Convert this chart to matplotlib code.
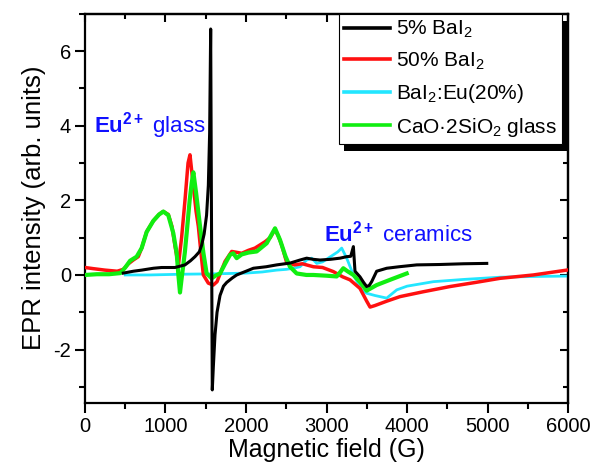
import numpy as np
import matplotlib
matplotlib.use("Agg")
from matplotlib import pyplot as plt
from matplotlib.ticker import MultipleLocator
from matplotlib.patches import Rectangle
from matplotlib.transforms import IdentityTransform

plt.rcParams['font.family'] = ['Liberation Sans', 'DejaVu Sans']
plt.rcParams['mathtext.fontset'] = 'custom'
plt.rcParams['mathtext.rm'] = 'Liberation Sans'
plt.rcParams['mathtext.it'] = 'Liberation Sans:italic'
plt.rcParams['mathtext.bf'] = 'Liberation Sans:bold'
plt.rcParams['axes.unicode_minus'] = False

# 5% BaI2
x_black = [476, 600, 704, 850, 952, 1118, 1242, 1310, 1366, 1420, 1449, 1480, 1510, 1532,
           1548, 1561, 1570, 1581, 1594, 1615, 1640, 1677, 1720, 1760, 1830, 1884, 2000,
           2091, 2250, 2381, 2550, 2670, 2753, 2830, 2919, 3050, 3167, 3250, 3300, 3333,
           3353, 3415, 3460, 3498, 3530, 3560, 3622, 3700, 3747, 3900, 4120, 4400, 4700, 4989]
y_black = [0.05, 0.1, 0.13, 0.18, 0.2, 0.2, 0.27, 0.38, 0.49, 0.62, 0.8, 1.1, 1.6, 2.4,
           3.8, 6.59, 2.0, -3.08, -2.46, -1.6, -1.0, -0.55, -0.3, -0.2, -0.08, 0.0, 0.1,
           0.18, 0.22, 0.27, 0.32, 0.4, 0.45, 0.42, 0.4, 0.42, 0.45, 0.49, 0.5, 0.76,
           0.1, -0.05, -0.2, -0.31, -0.28, -0.18, 0.1, 0.15, 0.18, 0.22, 0.27, 0.28, 0.3, 0.31]

# 50% BaI2
x_red = [0, 100, 248, 400, 476, 540, 600, 662, 704, 766, 849, 920, 973, 1035, 1080, 1120,
         1160, 1200, 1242, 1280, 1304, 1340, 1380, 1408, 1440, 1470, 1532, 1594, 1640,
         1700, 1739, 1822, 1900, 1946, 2030, 2111, 2236, 2300, 2360, 2400, 2443, 2505,
         2600, 2700, 2836, 2950, 3084, 3200, 3291, 3415, 3498, 3540, 3600, 3750, 3912,
         4200, 4533, 4850, 5154, 5568, 5983]
y_red = [0.2, 0.17, 0.13, 0.1, 0.15, 0.3, 0.4, 0.49, 0.72, 1.16, 1.45, 1.62, 1.7, 1.62,
         1.3, 0.75, 0.25, 1.0, 2.0, 3.0, 3.22, 2.5, 1.7, 1.3, 0.6, 0.0, -0.22, -0.27, -0.18,
         0.15, 0.36, 0.63, 0.6, 0.58, 0.66, 0.72, 0.89, 1.0, 1.22, 1.05, 0.8, 0.33,
         0.27, 0.3, 0.22, 0.2, 0.09, -0.05, -0.13, -0.36, -0.7, -0.86, -0.82, -0.7, -0.58,
         -0.45, -0.31, -0.2, -0.09, 0.0, 0.13]

# BaI2:Eu(20%)
x_cyan = [500, 800, 1200, 1600, 2000, 2200, 2381, 2500, 2587, 2670, 2753, 2815, 2878,
          2950, 3084, 3140, 3188, 3250, 3333, 3436, 3498, 3600, 3747, 3871, 4000, 4326,
          4700, 5154, 5600, 5983]
y_cyan = [0.0, 0.0, 0.02, 0.03, 0.05, 0.08, 0.13, 0.15, 0.18, 0.22, 0.4, 0.45, 0.31,
          0.35, 0.54, 0.62, 0.72, 0.45, 0.0, -0.4, -0.49, -0.55, -0.62, -0.4, -0.3, -0.18,
          -0.12, -0.06, -0.04, -0.03]

# CaO.2SiO2 glass
x_green = [0, 150, 300, 440, 500, 560, 642, 704, 766, 849, 920, 973, 1035, 1097, 1139,
           1160, 1180, 1200, 1240, 1263, 1300, 1325, 1346, 1380, 1429, 1470, 1511, 1573,
           1620, 1677, 1740, 1801, 1842, 1884, 1946, 2030, 2132, 2257, 2360, 2422, 2490,
           2546, 2629, 2750, 2836, 3000, 3126, 3208, 3260, 3333, 3420, 3498, 3622, 3800, 3995]
y_green = [0.0, 0.02, 0.02, 0.05, 0.2, 0.38, 0.49, 0.72, 1.15, 1.45, 1.62, 1.7, 1.6, 1.12,
           0.58, 0.0, -0.47, -0.1, 0.6, 1.12, 2.0, 2.46, 2.75, 2.2, 1.3, 0.6, 0.04, -0.09,
           -0.02, 0.04, 0.3, 0.54, 0.58, 0.45, 0.55, 0.6, 0.63, 0.85, 1.25, 0.94, 0.5,
           0.22, 0.04, 0.0, 0.0, -0.02, -0.04, 0.18, 0.1, 0.0, -0.2, -0.42, -0.27, -0.12, 0.04]

fig, ax = plt.subplots(figsize=(5.9, 4.72), dpi=100)
fig.subplots_adjust(left=0.144, right=0.963, top=0.971, bottom=0.147)

ax.plot(x_cyan, y_cyan, color='#22e6ff', lw=2.0, zorder=2, label='BaI$_2$:Eu(20%)')
ax.plot(x_red, y_red, color='#ff1010', lw=2.5, zorder=3, label='50% BaI$_2$')
ax.plot(x_green, y_green, color='#11ee11', lw=3.0, zorder=4, label='CaO\u00b72SiO$_2$ glass')
ax.plot(x_black, y_black, color='black', lw=2.2, zorder=5, label='5% BaI$_2$')

ax.set_xlim(0, 6000)
ax.set_ylim(-3.42, 7.0)
ax.set_xticks(np.arange(0, 6001, 1000))
ax.set_yticks([-2, 0, 2, 4, 6])
ax.xaxis.set_minor_locator(MultipleLocator(500))
ax.yaxis.set_minor_locator(MultipleLocator(1))
ax.tick_params(which='major', direction='out', length=7, width=1.5, labelsize=14.5, pad=3)
ax.tick_params(which='minor', direction='out', length=4, width=1.5)
for s in ax.spines.values():
    s.set_linewidth(1.6)

secx = ax.secondary_xaxis('top')
secx.set_xticks(np.arange(0, 6001, 1000))
secx.xaxis.set_minor_locator(MultipleLocator(500))
secx.tick_params(which='major', direction='in', length=6, width=1.5, labeltop=False)
secx.tick_params(which='minor', direction='in', length=3.5, width=1.5)
secx.spines['top'].set_linewidth(1.6)
secy = ax.secondary_yaxis('right')
secy.set_yticks([-2, 0, 2, 4, 6])
secy.yaxis.set_minor_locator(MultipleLocator(1))
secy.tick_params(which='major', direction='in', length=6, width=1.5, labelright=False)
secy.tick_params(which='minor', direction='in', length=3.5, width=1.5)
secy.spines['right'].set_linewidth(1.6)

ax.set_xlabel('Magnetic field (G)', fontsize=18, labelpad=2)
ax.set_ylabel('EPR intensity (arb. units)', fontsize=18.5, labelpad=5)

ax.text(110, 4.0, r'$\mathbf{Eu^{2+}}$ glass', color='#1010ff', fontsize=16, va='center')
ax.text(2970, 1.1, r'$\mathbf{Eu^{2+}}$ ceramics', color='#1010ff', fontsize=16, va='center')

h, l = ax.get_legend_handles_labels()
order = [3, 1, 0, 2]
leg = ax.legend([h[i] for i in order], [l[i] for i in order], loc='upper right',
                bbox_to_anchor=(0.9876, 1.0), borderaxespad=0, fontsize=15,
                frameon=True, fancybox=False, framealpha=1, edgecolor='black',
                handlelength=2.2, handletextpad=0.3, borderpad=0.25, labelspacing=0.5)
leg.get_frame().set_linewidth(0.8)
for line in leg.get_lines():
    line.set_linewidth(2.6)
leg.set_zorder(10)

fig.canvas.draw()
bb = leg.get_window_extent()
shadow = Rectangle((bb.x0 + 5, bb.y0 - 7), bb.width, bb.height, transform=IdentityTransform(),
                   facecolor='black', edgecolor='none', zorder=9, clip_on=False)
ax.add_patch(shadow)

fig.savefig('out.png', dpi=100)
